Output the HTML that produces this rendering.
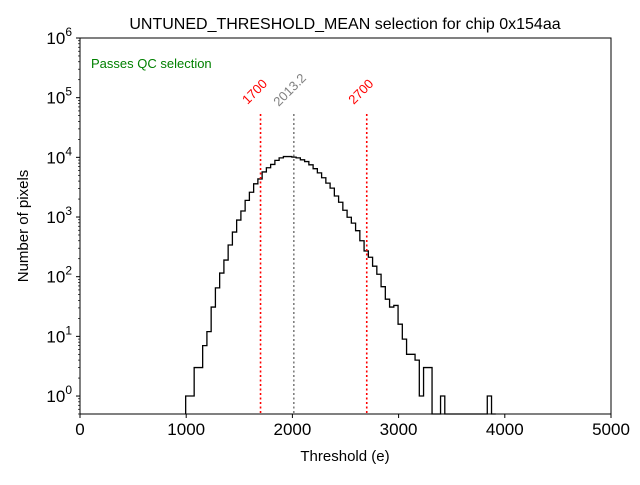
<!DOCTYPE html>
<html><head><meta charset="utf-8"><style>
body{margin:0;background:#fff}
text{font-family:"Liberation Sans","DejaVu Sans",sans-serif}
</style></head><body>
<svg id="chart" width="640" height="480"></svg>
<script>
const binStart = 995;
const binWidth = 40;
const counts = [1,1,3,3,7,12,31,65,115,190,340,560,890,1260,1900,2600,3600,4350,5700,6700,7600,8900,9800,10300,10300,
10100,9800,9100,8500,7500,6450,5500,4550,3700,3050,2250,1770,1300,990,790,590,400,270,212,150,110,68,42,31,33,16,9,5,5,4,1,3,3,0,0,1,
0,0,0,0,0,0,0,0,0,0,1,0];
const xTicks = [0,1000,2000,3000,4000,5000];
const yTicks = [0,1,2,3,4,5,6];
const cutLines = [1700,2700];
const meanValue = 2013.2;

const svg = document.getElementById('chart');
const NS = 'http://www.w3.org/2000/svg';
const L=80,R=611,T=38,B=414;
const x = v => L + (v-0)/(5000-0)*(R-L);
const yMin=Math.log10(0.5), yMax=6;
const y = v => B - (Math.log10(v)-yMin)/(yMax-yMin)*(B-T);
function mk(tag, attrs, parent){const e=document.createElementNS(NS,tag);for(const k in attrs)e.setAttribute(k,attrs[k]);(parent||svg).appendChild(e);return e;}

let d='';
counts.forEach((c,i)=>{
  const x0=x(binStart+i*binWidth), x1=x(binStart+(i+1)*binWidth);
  const yy = c>0 ? y(c) : B;
  d += (i===0? `M${x0},${B}`:'') + `L${x0},${yy}L${x1},${yy}`;
});
d += `L${x(binStart+counts.length*binWidth)},${B}`;
const hist = mk('path',{d:d,fill:'none',stroke:'#000','stroke-width':1.3});



cutLines.forEach(v=>{
  const ln=mk('line',{x1:x(v),x2:x(v),y1:114,y2:B,stroke:'red','stroke-width':1.6,'stroke-dasharray':'2,2.5'});
  
  
  const tx=x(v)-13, ty=105;
  const t=mk('text',{x:tx,y:ty,fill:'red','font-size':13,transform:`rotate(-45 ${tx} ${ty})`});
  t.textContent=String(v);
  
  
});
const ml=mk('line',{x1:x(meanValue),x2:x(meanValue),y1:114,y2:B,stroke:'gray','stroke-width':1.6,'stroke-dasharray':'2,2.5'});


const mtx=x(meanValue)-15, mty=107;
const mt=mk('text',{x:mtx,y:mty,fill:'gray','font-size':13,transform:`rotate(-45 ${mtx} ${mty})`});
mt.textContent=String(meanValue);



const fr=mk('rect',{x:L,y:T,width:R-L,height:B-T,fill:'none',stroke:'#000','stroke-width':1});



xTicks.forEach(v=>{
  mk('line',{x1:x(v),x2:x(v),y1:B,y2:B+4,stroke:'#000'});
  const t=mk('text',{x:x(v),y:B+21,'font-size':17,'text-anchor':'middle'});
  t.textContent=String(v);
  
  
});
yTicks.forEach(p=>{
  const yy=y(Math.pow(10,p));
  mk('line',{x1:L-4,x2:L,y1:yy,y2:yy,stroke:'#000'});
  for(let k=2;k<10;k++){const v=k*Math.pow(10,p-1);if(v>=0.5){const ym=y(v);mk('line',{x1:L-2,x2:L,y1:ym,y2:ym,stroke:'#000','stroke-width':0.7});}}
  const t=mk('text',{x:L-8,y:yy+6,'font-size':17,'text-anchor':'end'});
  t.innerHTML='10<tspan dy="-8" font-size="12">'+p+'</tspan>';
  
  
});
</script>
<svg width="640" height="480" style="position:absolute;left:0;top:0">
<text x="345" y="29" font-size="16" text-anchor="middle">UNTUNED_THRESHOLD_MEAN selection for chip 0x154aa</text>
<text x="345" y="461" font-size="15" text-anchor="middle">Threshold (e)</text>
<text x="28" y="226" font-size="15" text-anchor="middle" transform="rotate(-90 28 226)">Number of pixels</text>
<text x="91" y="68" font-size="13" fill="green">Passes QC selection</text>
</svg>
</body></html>
